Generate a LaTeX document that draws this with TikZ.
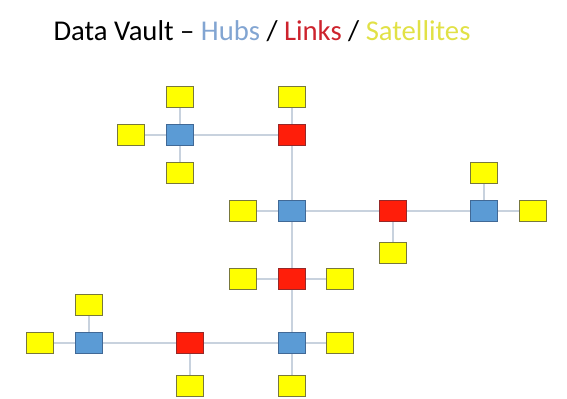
\documentclass[tikz,border=0pt]{standalone}
\usepackage{fontspec}
\setmainfont{Carlito}
\usepackage{tikz}
\definecolor{hubblue}{RGB}{91,155,213}
\definecolor{hubedge}{RGB}{65,105,150}
\definecolor{linkred}{RGB}{255,30,10}
\definecolor{linkedge}{RGB}{150,40,40}
\definecolor{satyellow}{RGB}{255,255,0}
\definecolor{satedge}{RGB}{120,120,60}
\definecolor{edgegray}{RGB}{200,210,222}
\definecolor{titleblue}{RGB}{130,165,210}
\definecolor{titlered}{RGB}{205,35,45}
\definecolor{titleyellow}{RGB}{225,225,70}
\tikzstyle{box}=[rectangle,minimum width=20.5pt,minimum height=16pt,inner sep=0pt,line width=1pt]
\tikzstyle{hub}=[box,fill=hubblue,draw=hubedge]
\tikzstyle{link}=[box,fill=linkred,draw=linkedge]
\tikzstyle{sat}=[box,fill=satyellow,draw=satedge]
\tikzstyle{conn}=[draw,edgegray,line width=0.9pt]

\begin{document}
\begin{tikzpicture}[x=0.75pt,y=-0.75pt]
    \useasboundingbox (0,0) rectangle (567,399);
    \node[font=\fontsize{21.5}{24}\selectfont] (title) at (262,31)
        {Data Vault -- \textcolor{titleblue}{Hubs} / \textcolor{titlered}{Links} / \textcolor{titleyellow}{Satellites}};

    % hubs and links
    \foreach \pos/\name/\kind in {{(180,135)/hA/hub}, {(292,135)/lA/link},
    {(292,211)/hB/hub}, {(393,211)/lB/link}, {(484,211)/hC/hub},
    {(292,279)/lC/link}, {(292,343)/hD/hub}, {(190,343)/lD/link},
    {(89,343)/hE/hub}}
        \node[\kind] (\name) at \pos {};

    % satellites
    \foreach \pos/\name in {{(180,97)/sA}, {(131,135)/sB}, {(180,173)/sC},
    {(292,97)/sD}, {(243,211)/sE}, {(393,253)/sF}, {(484,173)/sG},
    {(533,211)/sH}, {(243,279)/sI}, {(340,279)/sJ}, {(340,343)/sK},
    {(292,386)/sL}, {(190,386)/sM}, {(89,305)/sN}, {(40,343)/sO}}
        \node[sat] (\name) at \pos {};

    \foreach \source/\dest in {hA/sA,hA/sB,hA/sC,hA/lA,lA/sD,lA/hB,hB/sE,
    hB/lB,lB/sF,lB/hC,hC/sG,hC/sH,hB/lC,lC/sI,lC/sJ,lC/hD,hD/sK,hD/sL,
    hD/lD,lD/sM,lD/hE,hE/sN,hE/sO}
        \path[conn] (\source) -- (\dest);
\end{tikzpicture}
\end{document}
